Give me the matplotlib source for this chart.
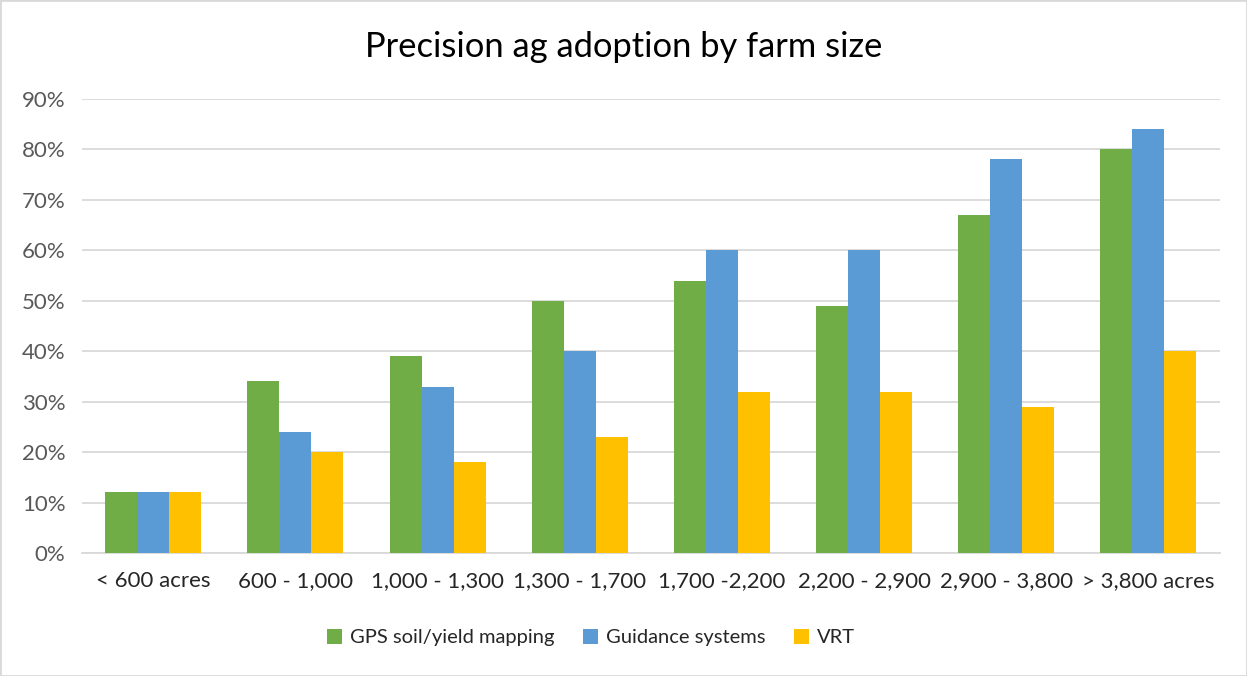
import numpy as np
import matplotlib.pyplot as plt
from matplotlib.patches import Rectangle
from matplotlib.ticker import PercentFormatter

plt.rcParams['font.family'] = ['Lato', 'DejaVu Sans']

categories = ['< 600 acres', '600 - 1,000', '1,000 - 1,300', '1,300 - 1,700',
              '1,700 -2,200', '2,200 - 2,900', '2,900 - 3,800', '> 3,800 acres']
gps = [12, 34, 39, 50, 54, 49, 67, 80]
guidance = [12, 24, 33, 40, 60, 60, 78, 84]
vrt = [12, 20, 18, 23, 32, 32, 29, 40]

series = [('GPS soil/yield mapping', gps, '#70AD47'),
          ('Guidance systems', guidance, '#5B9BD5'),
          ('VRT', vrt, '#FFC000')]

fig = plt.figure(figsize=(12.47, 6.76), dpi=100)
ax = fig.add_axes([0.0658, 0.182, 0.9122, 0.6716])

x = np.arange(len(categories))
w = 0.225
for k, (name, vals, col) in enumerate(series):
    ax.bar(x + (k - 1) * w, vals, width=w, color=col, label=name, zorder=3)

ax.set_xlim(-0.5, len(categories) - 0.5)
ax.set_ylim(0, 90)
ax.set_yticks(range(0, 91, 10))
ax.yaxis.set_major_formatter(PercentFormatter(decimals=0))
ax.set_xticks(x)
ax.set_xticklabels(categories)
ax.grid(axis='y', color='#d9d9d9', linewidth=1.3, zorder=0)
for s in ['top', 'right', 'left']:
    ax.spines[s].set_visible(False)
ax.spines['bottom'].set_color('#d9d9d9')
ax.spines['bottom'].set_linewidth(1.3)
ax.tick_params(axis='y', length=0, labelsize=16, labelcolor='#595959', pad=12)
ax.tick_params(axis='x', length=0, labelsize=16, labelcolor='#262626', pad=13)

fig.text(0.5, 0.93, 'Precision ag adoption by farm size', ha='center', va='center',
         fontsize=24.8, color='#000000')

fig.legend(loc='center', bbox_to_anchor=(0.474, 0.057), ncol=3, frameon=False,
           fontsize=14.5, handlelength=0.75, handleheight=0.75, columnspacing=1.4,
           handletextpad=0.4, labelcolor='#262626')

fig.patches.append(Rectangle((0.0, 0.0), 1, 1, transform=fig.transFigure,
                             fill=False, edgecolor='#d9d9d9', linewidth=2))

fig.savefig('out.png', dpi=100)
